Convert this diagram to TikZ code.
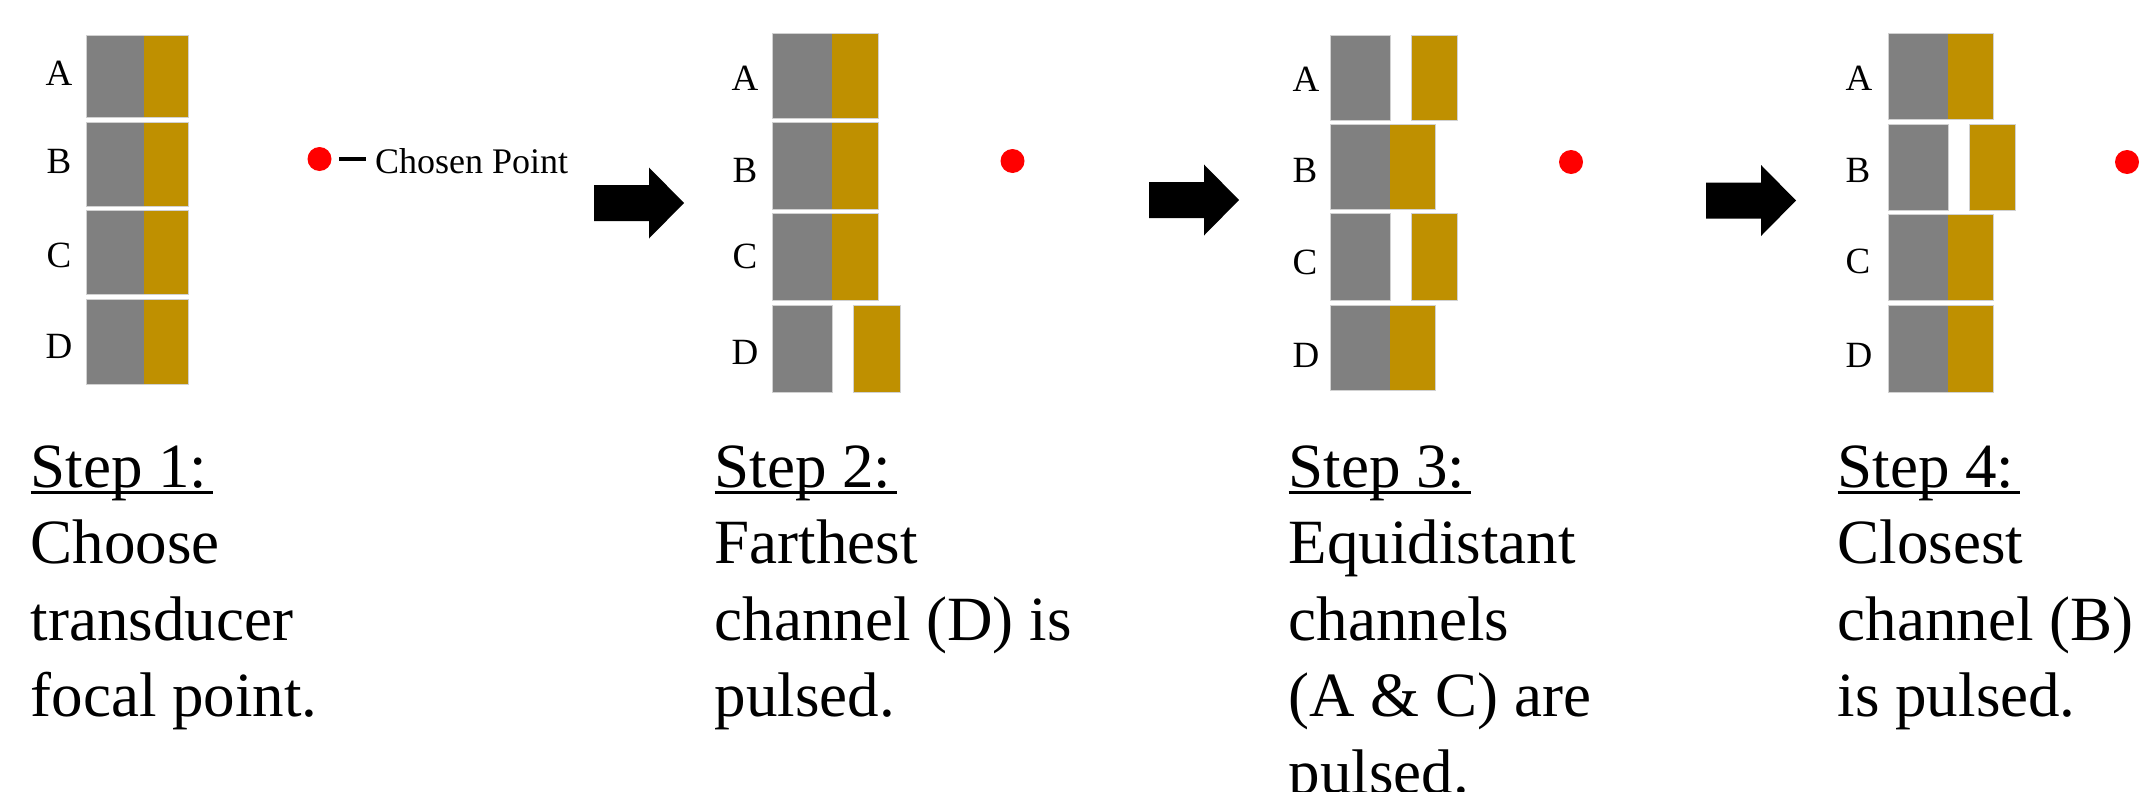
\documentclass[tikz,border=0pt]{standalone}
\usepackage{fontspec}
\setmainfont{Liberation Serif}
\usetikzlibrary{calc}
\definecolor{tgray}{HTML}{808080}
\definecolor{tgold}{HTML}{BF9000}
\definecolor{tred}{HTML}{FF0000}
\tikzset{
  grayblk/.style={fill=tgray},
  goldblk/.style={fill=tgold},
  halo/.style={draw=black!18, line width=1.6pt},
  lbl/.style={font=\fontsize{37}{40}\selectfont, anchor=base, inner sep=0pt},
  reddot/.style={circle, fill=tred, minimum width=23.5pt, minimum height=24pt, inner sep=0pt},
  legdash/.style={line width=4pt},
  steptxt/.style={font=\fontsize{63}{76}\selectfont, anchor=base west, inner sep=0pt},
  uline/.style={line width=3.4pt},
  blkarrow/.style={fill=black}
}
\newcommand{\chanfull}[5]{% top bottom grayx0 grayx1 goldx1
  \draw[halo] (#3,#1) rectangle (#5,#2);
  \fill[grayblk] (#3,#1) rectangle (#4,#2);
  \fill[goldblk] (#4,#1) rectangle (#5,#2);}
\newcommand{\chansplit}[6]{% top bottom grayx0 grayx1 goldx0 goldx1
  \draw[halo] (#3,#1) rectangle (#4,#2);
  \draw[halo] (#5,#1) rectangle (#6,#2);
  \fill[grayblk] (#3,#1) rectangle (#4,#2);
  \fill[goldblk] (#5,#1) rectangle (#6,#2);}
\newcommand{\blockarr}[2]{% left x, centre y
  \fill[blkarrow] (#1,#2-18) -- (#1+55,#2-18) -- (#1+55,#2-35.5) -- (#1+90,#2)
     -- (#1+55,#2+35.5) -- (#1+55,#2+18) -- (#1,#2+18) -- cycle;}
\begin{document}
\begin{tikzpicture}[x=1pt,y=-1pt]
\useasboundingbox (0,0) rectangle (2147,792);

% ---------- Panel 1 ----------
\chanfull{36}{117}{86.5}{144.3}{188}
\chanfull{123}{206}{86.5}{144.3}{188}
\chanfull{211}{294}{86.5}{144.3}{188}
\chanfull{300}{384}{86.5}{144.3}{188}
\node[lbl] (p1A) at (59,85) {A};
\node[lbl] (p1B) at (59,173) {B};
\node[lbl] (p1C) at (59,267) {C};
\node[lbl] (p1D) at (59,358) {D};
\node[reddot] (p1dot) at (319.5,159) {};
\node[font=\fontsize{36}{40}\selectfont, anchor=base west, inner sep=0pt] (cp) at (375,173) {Chosen Point};
\draw[legdash] ([xshift=7.5pt]p1dot.east) -- ($(cp.west |- p1dot)+(-9.5,0)$);

% ---------- Panel 2 ----------
\chanfull{34}{118}{773}{832}{878}
\chanfull{123}{209}{773}{832}{878}
\chanfull{214}{300}{773}{832}{878}
\chansplit{306}{392}{773}{832}{854}{900}
\node[lbl] (p2A) at (745,91) {A};
\node[lbl] (p2B) at (745,182) {B};
\node[lbl] (p2C) at (745,268) {C};
\node[lbl] (p2D) at (745,364) {D};
\node[reddot] (p2dot) at (1012.5,161) {};

% ---------- Panel 3 ----------
\chansplit{36}{120}{1331}{1390}{1412}{1457}
\chanfull{125}{209}{1331}{1390}{1435}
\chansplit{214}{300}{1331}{1390}{1412}{1457}
\chanfull{306}{390}{1331}{1390}{1435}
\node[lbl] (p3A) at (1306,92) {A};
\node[lbl] (p3B) at (1305,182) {B};
\node[lbl] (p3C) at (1305,274) {C};
\node[lbl] (p3D) at (1306,367) {D};
\node[reddot] (p3dot) at (1571,162) {};

% ---------- Panel 4 ----------
\chanfull{34}{119}{1889}{1948}{1993}
\chansplit{125}{210}{1889}{1948}{1970}{2015}
\chanfull{215}{300}{1889}{1948}{1993}
\chanfull{306}{392}{1889}{1948}{1993}
\node[lbl] (p4A) at (1859,90) {A};
\node[lbl] (p4B) at (1858,182) {B};
\node[lbl] (p4C) at (1858,273) {C};
\node[lbl] (p4D) at (1859,367) {D};
\node[reddot] (p4dot) at (2127,162) {};

% ---------- Block arrows ----------
\blockarr{594}{203}
\blockarr{1149}{200}
\blockarr{1706}{200.5}

% ---------- Step texts ----------
\node[steptxt] (s1h) at (30.5,487) {Step 1:};
\node[steptxt] (s1a) at (30.5,563.5) {Choose};
\node[steptxt] (s1b) at (30.5,640) {transducer};
\node[steptxt] (s1c) at (30.5,716.7) {focal point.};
\draw[uline] ([yshift=-5.5pt]s1h.base west) -- ([xshift=5pt,yshift=-5.5pt]s1h.base east);

\node[steptxt] (s2h) at (714.5,487) {Step 2:};
\node[steptxt] (s2a) at (714.5,563.5) {Farthest};
\node[steptxt] (s2b) at (714.5,640) {channel (D) is};
\node[steptxt] (s2c) at (714.5,716.7) {pulsed.};
\draw[uline] ([yshift=-5.5pt]s2h.base west) -- ([xshift=5pt,yshift=-5.5pt]s2h.base east);

\node[steptxt] (s3h) at (1288.5,487) {Step 3:};
\node[steptxt] (s3a) at (1288.5,563.5) {Equidistant};
\node[steptxt] (s3b) at (1288.5,640) {channels};
\node[steptxt] (s3c) at (1288.5,716.7) {(A \& C) are};
\node[steptxt] (s3d) at (1288.5,793.4) {pulsed.};
\draw[uline] ([yshift=-5.5pt]s3h.base west) -- ([xshift=5pt,yshift=-5.5pt]s3h.base east);

\node[steptxt] (s4h) at (1837.5,487) {Step 4:};
\node[steptxt] (s4a) at (1837.5,563.5) {Closest};
\node[steptxt] (s4b) at (1837.5,640) {channel (B)};
\node[steptxt] (s4c) at (1837.5,716.7) {is pulsed.};
\draw[uline] ([yshift=-5.5pt]s4h.base west) -- ([xshift=5pt,yshift=-5.5pt]s4h.base east);
\end{tikzpicture}
\end{document}
